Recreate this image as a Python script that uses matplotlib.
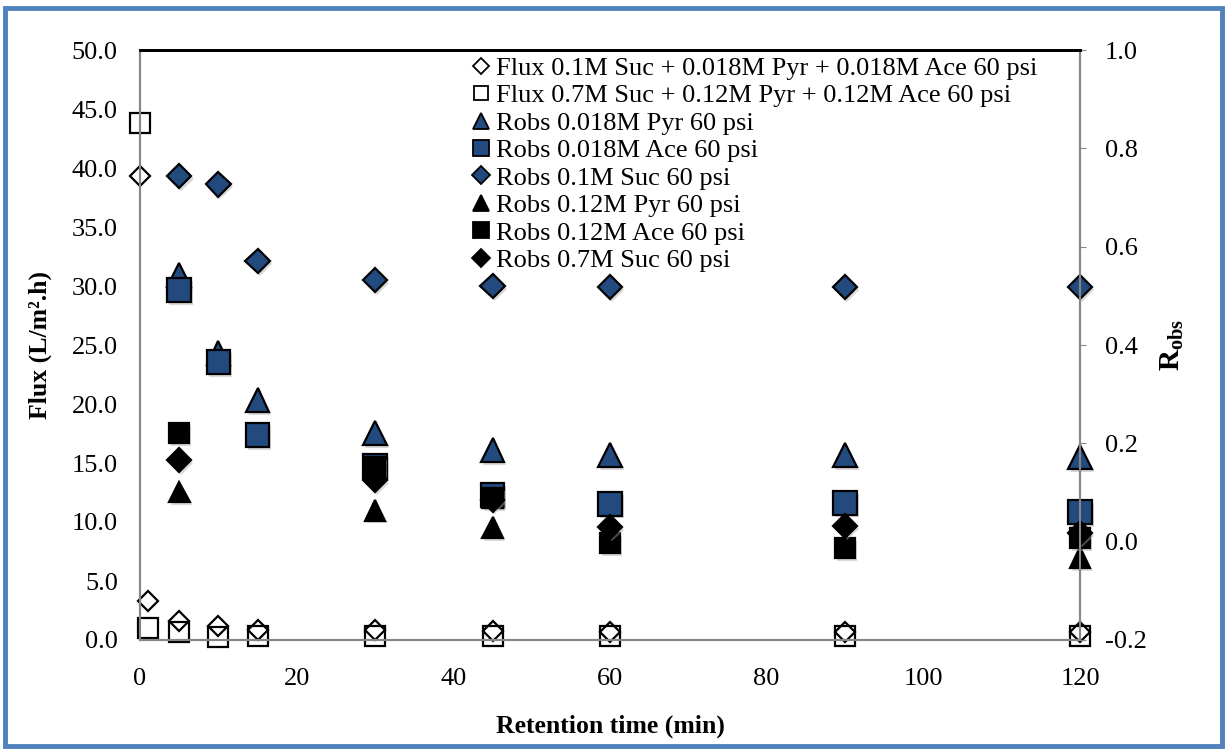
import matplotlib
matplotlib.use("Agg")
import matplotlib.pyplot as plt
import matplotlib.patheffects as pe
from matplotlib.lines import Line2D
from matplotlib.patches import Rectangle
import numpy as np

plt.rcParams['font.family'] = ['Liberation Serif', 'DejaVu Serif']
plt.rcParams['mathtext.fontset'] = 'custom'
plt.rcParams['mathtext.rm'] = 'Liberation Serif'
plt.rcParams['mathtext.bf'] = 'Liberation Serif:bold'

nan = np.nan
# Flux series (left axis)
t_flux = [0, 1, 5, 10, 15, 30, 45, 60, 90, 120]
flux_01 = [39.3, 3.3, 1.6, 1.2, 0.85, 0.85, 0.8, 0.7, 0.7, 0.7]
t_flux2 = [0, 1, 5, 10, 15, 30, 45, 60, 90, 120]
flux_07 = [43.8, 1.0, 0.7, 0.25, 0.35, 0.35, 0.35, 0.35, 0.35, 0.35]

# Robs series (right axis)
t_r = [5, 10, 15, 30, 45, 60, 90, 120]
r_pyr_018 = [0.542, 0.384, 0.288, 0.221, 0.186, 0.176, 0.176, 0.172]
r_ace_018 = [0.512, 0.365, 0.217, 0.154, 0.095, 0.077, 0.079, 0.060]
r_suc_01 = [0.744, 0.727, 0.571, 0.532, 0.520, 0.518, 0.518, 0.518]
t_r2 = [5, 30, 45, 60, 90, 120]
r_pyr_12 = [0.101, 0.064, 0.028, nan, nan, -0.033]
r_ace_12 = [0.221, 0.152, 0.088, -0.003, -0.013, 0.007]
r_suc_07 = [0.166, 0.125, 0.085, 0.030, 0.032, 0.018]

labels = ["Flux 0.1M Suc + 0.018M Pyr + 0.018M Ace 60 psi",
          "Flux 0.7M Suc + 0.12M Pyr + 0.12M Ace 60 psi",
          "Robs 0.018M Pyr 60 psi",
          "Robs 0.018M Ace 60 psi",
          "Robs 0.1M Suc 60 psi",
          "Robs 0.12M Pyr 60 psi",
          "Robs 0.12M Ace 60 psi",
          "Robs 0.7M Suc 60 psi"]

blue = '#224A7E'
gray = '#868686'
W, H = 1227, 754
fig = plt.figure(figsize=(W/100, H/100), dpi=100)
ax1 = fig.add_axes([140/W, 1-640/H, 940/W, 590/H])
ax2 = ax1.twinx()

shadow = [pe.SimplePatchShadow(offset=(1.5, -2), shadow_rgbFace='#aaaaaa', alpha=0.45), pe.Normal()]

def plot(ax, x, y, marker, ms, fc, ec='black', mew=1.6, shade=True):
    ax.plot(x, y, linestyle='none', marker=marker, markersize=ms,
            markerfacecolor=fc, markeredgecolor=ec, markeredgewidth=mew,
            clip_on=False, path_effects=shadow if shade else None)

plot(ax1, t_flux, flux_01, 'D', 10.5, 'white', shade=False)
plot(ax1, t_flux2, flux_07, 's', 14.5, 'none', shade=False)
plot(ax2, t_r, r_pyr_018, '^', 17, blue)
plot(ax2, t_r, r_ace_018, 's', 17, blue)
plot(ax2, t_r, r_suc_01, 'D', 12.5, blue)
plot(ax2, t_r2, r_pyr_12, '^', 15, 'black')
plot(ax2, t_r2, r_ace_12, 's', 14.5, 'black')
plot(ax2, t_r2, r_suc_07, 'D', 12, 'black')

ax1.set_xlim(0, 120)
ax1.set_ylim(0, 50)
ax2.set_ylim(-0.2, 1.0)
ax1.set_xticks(range(0, 121, 20))
ax1.set_yticks(np.arange(0, 50.1, 5))
ax1.set_yticklabels([f"{v:.1f}" for v in np.arange(0, 50.1, 5)])
ax2.set_yticks(np.arange(-0.2, 1.01, 0.2))
ax2.set_yticklabels([f"{v:.1f}" for v in np.arange(-0.2, 1.01, 0.2)])

for ax in (ax1, ax2):
    for s in ax.spines.values():
        s.set_color(gray)
        s.set_linewidth(1.5)
    ax.spines['top'].set_color('black')
    ax.spines['top'].set_linewidth(2)
ax2.patch.set_visible(False)

ax1.tick_params(axis='x', length=0, labelsize=19, pad=20)
ax1.tick_params(axis='y', length=0, labelsize=19, pad=16)
ax2.tick_params(axis='y', length=4, color=gray, labelsize=19, pad=14)

ax1.set_xlabel("Retention time (min)", fontsize=18.5, fontweight='bold', labelpad=18)
ax1.set_ylabel("Flux (L/m\u00b2.h)", fontsize=18.5, fontweight='bold', labelpad=14)
ax2.set_ylabel(r"$\mathbf{R}_{\mathbf{obs}}$", fontsize=21, labelpad=8, rotation=90)

handles = [
    Line2D([], [], ls='none', marker='D', ms=8, mfc='white', mec='black', mew=1.3),
    Line2D([], [], ls='none', marker='s', ms=10, mfc='white', mec='black', mew=1.3),
    Line2D([], [], ls='none', marker='^', ms=12, mfc=blue, mec='black', mew=1.3),
    Line2D([], [], ls='none', marker='s', ms=12, mfc=blue, mec='black', mew=1.3),
    Line2D([], [], ls='none', marker='D', ms=9, mfc=blue, mec='black', mew=1.3),
    Line2D([], [], ls='none', marker='^', ms=12, mfc='black', mec='black', mew=1.3),
    Line2D([], [], ls='none', marker='s', ms=12, mfc='black', mec='black', mew=1.3),
    Line2D([], [], ls='none', marker='D', ms=9, mfc='black', mec='black', mew=1.3),
]
fig.legend(handles, labels, loc='upper left', bbox_to_anchor=(455/W, 1-38/H),
           frameon=False, fontsize=19, handlelength=0.6, handletextpad=0.25,
           labelspacing=0.15, borderpad=0.2)

fig.patches.append(Rectangle((5/W, 8/H), 1217/W, 738/H, transform=fig.transFigure,
                             fill=False, edgecolor='#4F81BD', linewidth=3.5))

fig.savefig("out.png", dpi=100)
